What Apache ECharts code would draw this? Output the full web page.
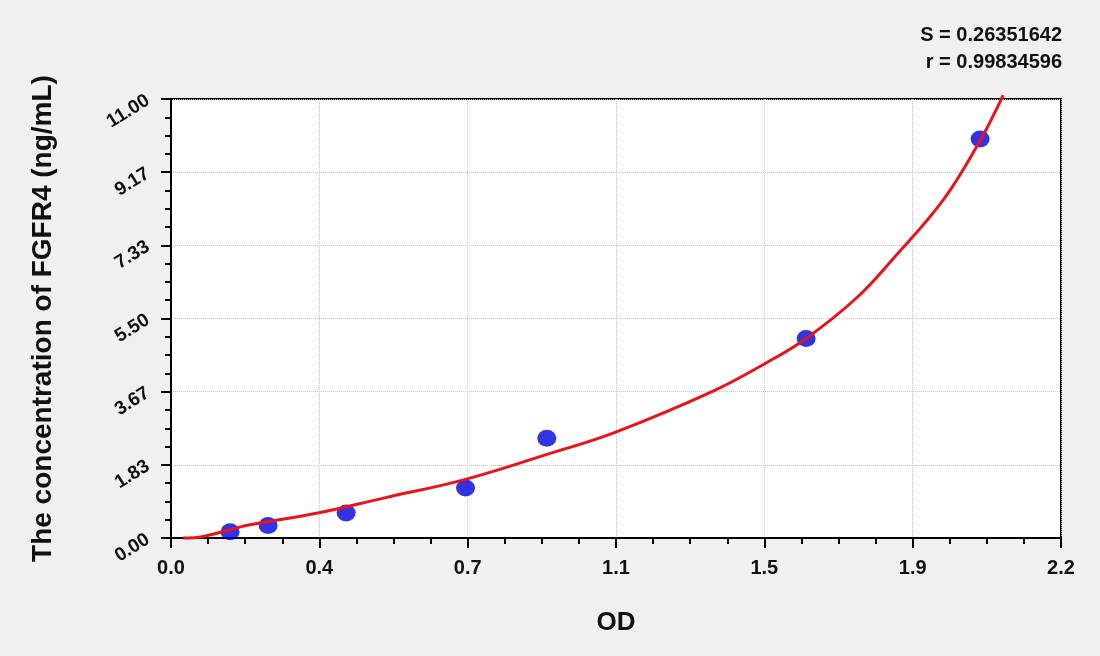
<!DOCTYPE html>
<html>
<head>
<meta charset="utf-8">
<script src="https://cdn.jsdelivr.net/npm/echarts@6/dist/echarts.min.js"></script>
<style>
  html, body { margin: 0; padding: 0; background: #f0f0f0; }
  #chart { width: 1100px; height: 656px; }
</style>
</head>
<body>
<div id="chart"></div>
<script>
var chart = echarts.init(document.getElementById('chart'));

// standards (OD, concentration)
let pointsOD = [0.146, 0.240, 0.433, 0.728, 0.929, 1.570, 2.000];
let pointsConc = [0.156, 0.312, 0.625, 1.25, 2.5, 5, 10];

// fitted curve
let curveOD = [0.03, 0.08, 0.195, 0.36, 0.525, 0.728, 0.937, 1.096, 1.34, 1.47, 1.57, 1.695, 1.785, 1.909, 2.0, 2.057];
let curveConc = [0.0, 0.04, 0.33, 0.62, 1.0, 1.47, 2.12, 2.64, 3.68, 4.38, 5.0, 6.02, 7.0, 8.47, 9.96, 11.1];

let xLabels = ['0.0', '0.4', '0.7', '1.1', '1.5', '1.9', '2.2'];
let yLabels = ['0.00', '1.83', '3.67', '5.50', '7.33', '9.17', '11.00'];

let font = '"Liberation Sans", Arial, sans-serif';
let xStep = 2.2 / 6;
let yStep = 11 / 6;

var option = {
    backgroundColor: '#f0f0f0',
    animation: false,
    textStyle: { fontFamily: font },
    graphic: [
        {
            type: 'text', right: 38, top: 25,
            style: { text: 'S = 0.26351642', font: 'bold 20px ' + font, fill: '#111', textAlign: 'right' }
        },
        {
            type: 'text', right: 38, top: 52,
            style: { text: 'r = 0.99834596', font: 'bold 20px ' + font, fill: '#111', textAlign: 'right' }
        }
    ],
    grid: {
        left: 171,
        right: 39,
        top: 99,
        bottom: 118,
        show: true,
        backgroundColor: '#ffffff',
        borderColor: '#000',
        borderWidth: 2
    },
    xAxis: {
        type: 'value',
        min: 0,
        max: 2.2,
        interval: xStep,
        name: 'OD',
        nameLocation: 'middle',
        nameGap: 72,
        nameTextStyle: { fontSize: 26, fontWeight: 'bold', color: '#111' },
        axisLine: { lineStyle: { color: '#000', width: 2 } },
        axisTick: { length: 10, lineStyle: { color: '#000', width: 2 } },
        minorTick: { show: true, splitNumber: 4, length: 6, lineStyle: { color: '#000', width: 2 } },
        axisLabel: {
            margin: 20,
            fontSize: 20,
            fontWeight: 'bold',
            color: '#111',
            formatter: function (v) { return xLabels[Math.round(v / xStep)]; }
        },
        splitLine: { show: true, lineStyle: { color: '#c4c4c4', type: 'dotted', width: 1 } }
    },
    yAxis: {
        type: 'value',
        min: 0,
        max: 11,
        interval: yStep,
        name: 'The concentration of FGFR4 (ng/mL)',
        nameLocation: 'middle',
        nameGap: 114,
        nameTextStyle: { fontSize: 28, fontWeight: 'bold', color: '#111' },
        axisLine: { lineStyle: { color: '#000', width: 2 } },
        axisTick: { length: 10, lineStyle: { color: '#000', width: 2 } },
        minorTick: { show: true, splitNumber: 4, length: 6, lineStyle: { color: '#000', width: 2 } },
        axisLabel: {
            margin: 23,
            rotate: 32,
            fontSize: 19,
            fontWeight: 'bold',
            color: '#111',
            formatter: function (v) { return yLabels[Math.round(v / yStep)]; }
        },
        splitLine: { show: true, lineStyle: { color: '#c4c4c4', type: 'dotted', width: 1 } }
    },
    series: [
        {
            type: 'scatter',
            symbol: 'circle',
            symbolSize: [19, 17],
            itemStyle: { color: '#0000e0' },
            data: pointsOD.map(function (x, i) { return [x, pointsConc[i]]; })
        },
        {
            type: 'line',
            smooth: 0.4,
            symbol: 'none',
            clip: false,
            lineStyle: { color: '#e8141a', width: 3 },
            data: curveOD.map(function (x, i) { return [x, curveConc[i]]; })
        }
    ]
};
chart.setOption(option);
</script>
</body>
</html>
